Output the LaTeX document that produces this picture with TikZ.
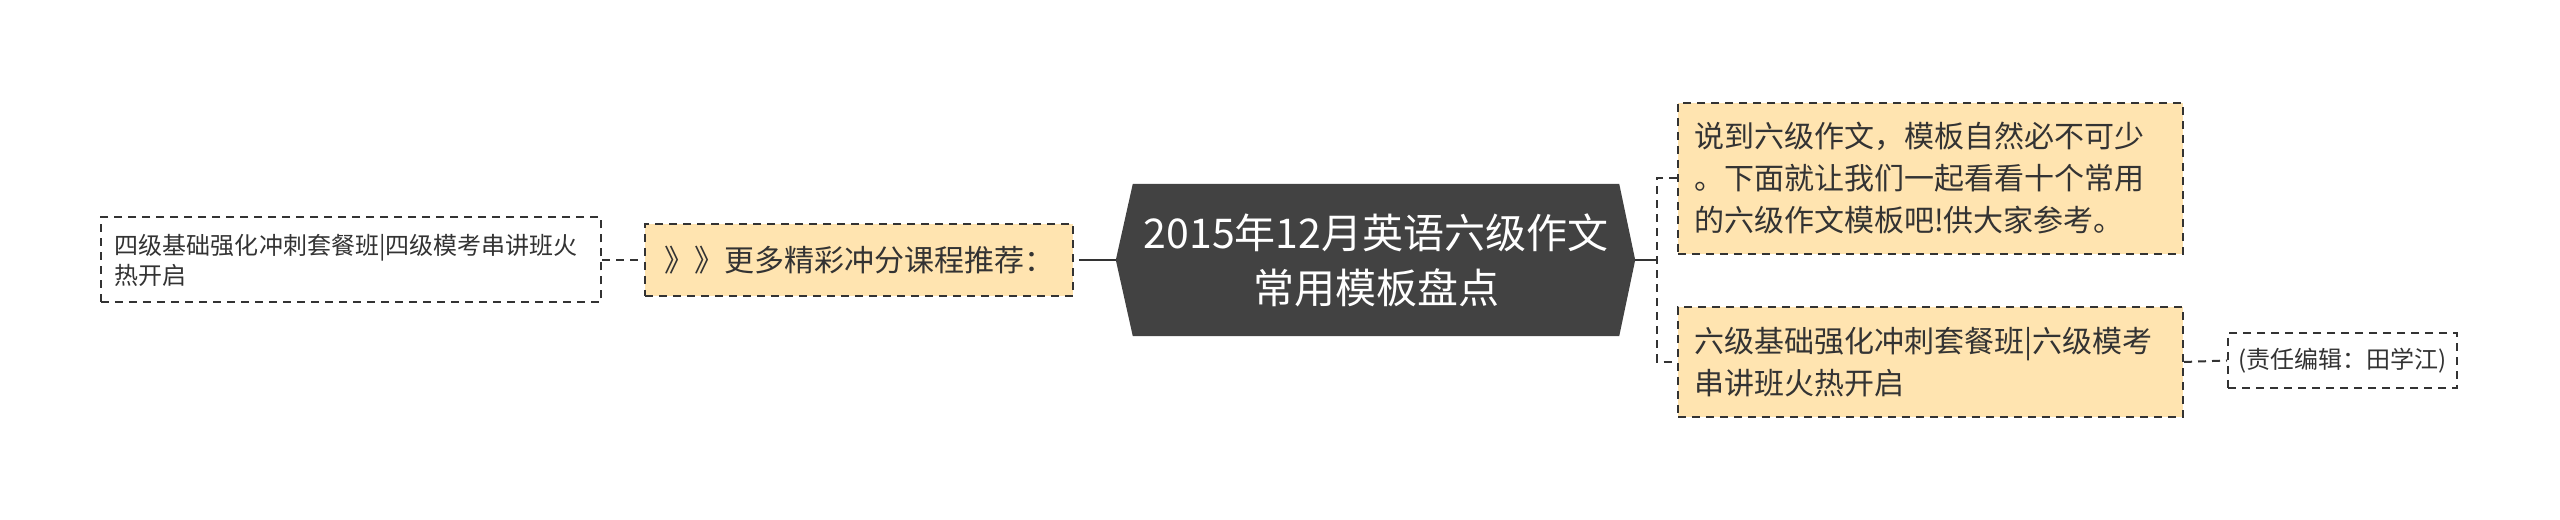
\documentclass[tikz,border=0pt]{standalone}
\usepackage{fontspec}
\newfontfamily\cjk{Noto Sans CJK SC}
\usetikzlibrary{positioning,calc,backgrounds}

\definecolor{rootgray}{HTML}{424242}
\definecolor{boxyellow}{HTML}{FFE4B0}
\definecolor{linegray}{HTML}{333333}

\begin{document}
\begin{tikzpicture}[x=1bp,y=1bp,
	box/.style={draw=linegray, line width=2bp, dash pattern=on 8bp off 6bp, inner ysep=0bp, text=linegray},
	yellowbox/.style={box, fill=boxyellow, font=\cjk\fontsize{30bp}{42bp}\selectfont},
	whitebox/.style={box, fill=white, font=\cjk\fontsize{24bp}{30bp}\selectfont},
	link/.style={draw=linegray, line width=2bp},
	dashlink/.style={link, dash pattern=on 8bp off 6bp}]
	\useasboundingbox (0,0) rectangle (2560,520);
	
	% root (hexagon)
	\node[text=white, font=\cjk\fontsize{41bp}{55bp}\selectfont, align=center,
	minimum width=486bp, minimum height=152bp, inner sep=0bp] (root) at (1376,260)
	{2015年12月英语六级作文\\常用模板盘点};
	\coordinate (rootL) at ($(root.west)+(-17,0)$);
	\coordinate (rootR) at ($(root.east)+(16,0)$);
	\begin{scope}[on background layer]
		\fill[rootgray] (root.north west) -- (root.north east) -- (rootR)
		-- (root.south east) -- (root.south west) -- (rootL) -- cycle;
	\end{scope}
	
	% left side
	\node[yellowbox, minimum width=428bp, minimum height=72bp, inner xsep=15bp] (more) at (859,260)
	{》》更多精彩冲分课程推荐：};
	\node[whitebox, text width=472bp, align=left, minimum height=85bp, inner xsep=14bp] (four) at (351,260)
	{四级基础强化冲刺套餐班|四级模考串讲班火\\热开启};
	
	% right side
	\node[yellowbox, text width=473bp, align=left, minimum height=151bp, inner xsep=16bp] (intro) at (1930.5,341.5)
	{说到六级作文，模板自然必不可少\\。下面就让我们一起看看十个常用\\的六级作文模板吧!供大家参考。};
	\node[yellowbox, text width=473bp, align=left, minimum height=110bp, inner xsep=16bp] (six) at (1930.5,158)
	{六级基础强化冲刺套餐班|六级模考\\串讲班火热开启};
	\node[whitebox, minimum width=229bp, minimum height=55bp, inner xsep=10bp] (editor) at (2342.5,159.5)
	{(责任编辑：田学江)};
	
	% connectors
	\coordinate (jL) at (1087,260);
	\coordinate (jR) at (1657,260);
	\draw[link] (rootL) -- (jL);
	\draw[dashlink] (jL) -- (more.east);
	\draw[dashlink] (four.east) -- (more.west);
	\draw[link] (rootR) -- (jR);
	\draw[dashlink] (intro.west) -| (jR) |- (six.west);
	\draw[dashlink] (six.east) -- (editor.west);
\end{tikzpicture}
\end{document}
